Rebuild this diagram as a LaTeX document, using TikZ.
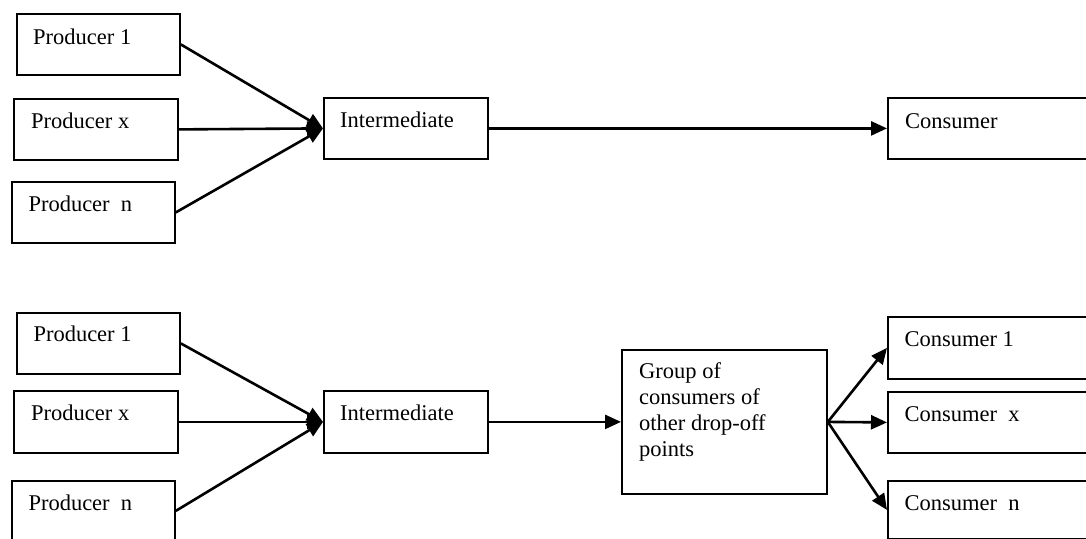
\documentclass[tikz,border=0pt]{standalone}
\usepackage{fontspec}
\setmainfont{Liberation Serif}
\usetikzlibrary{arrows.meta}
\begin{document}
\begin{tikzpicture}[x=1pt,y=-1pt,
  box/.style={draw, line width=1.8pt, inner sep=0pt, anchor=north west},
  txt/.style={inner sep=0pt, anchor=base west, font=\fontsize{22.5}{26}\selectfont},
  conn/.style={line width=2.6pt, -{Triangle[length=16pt,width=14pt]}}]
\useasboundingbox (0,0) rectangle (1086,538);
\clip (0,0) rectangle (1086,538);
% ---- top diagram ----
\node[box, minimum width=163pt, minimum height=61pt] (tp1) at (16,13) {};
\node[box, minimum width=164pt, minimum height=61pt] (tpx) at (13,98) {};
\node[box, minimum width=163pt, minimum height=61pt] (tpn) at (11,181) {};
\node[box, minimum width=164pt, minimum height=61pt] (ti) at (323,97) {};
\node[box, minimum width=250pt, minimum height=61pt] (tc) at (887,97) {};
\node[txt] (ttp1) at (33,44) {Producer 1};
\node[txt] (ttpx) at (31,128.3) {Producer x};
\node[txt] (ttpn) at (28.3,211.7) {Producer~~n};
\node[txt] (tti) at (340,127.7) {Intermediate};
\node[txt] (ttc) at (905,128.3) {Consumer};
\draw[conn] (tp1.east) -- (ti.west);
\draw[conn] (tpx.east) -- (ti.west);
\draw[conn] (tpn.east) -- (ti.west);
\draw[conn] (ti.east) -- (tc.west);
% ---- bottom diagram ----
\node[box, minimum width=163pt, minimum height=61pt] (bp1) at (16,312) {};
\node[box, minimum width=164pt, minimum height=62pt] (bpx) at (13,390) {};
\node[box, minimum width=163pt, minimum height=60pt] (bpn) at (11,480) {};
\node[box, minimum width=164pt, minimum height=62pt] (bi) at (323,390) {};
\node[box, minimum width=205pt, minimum height=144pt] (bg) at (621,349) {};
\node[box, minimum width=250pt, minimum height=62pt] (bc1) at (887,316) {};
\node[box, minimum width=250pt, minimum height=61pt] (bcx) at (887,391) {};
\node[box, minimum width=250pt, minimum height=58pt] (bcn) at (887,480) {};
\node[txt] (tbp1) at (33.3,341.7) {Producer 1};
\node[txt] (tbpx) at (31,420.7) {Producer x};
\node[txt] (tbpn) at (28.3,510.7) {Producer~~n};
\node[txt] (tbi) at (340,420.7) {Intermediate};
\node[txt, align=left] (tbg) at (639,456.7) {Group of\\consumers of\\other drop-off\\points};
\node[txt] (tbc1) at (904.3,346.7) {Consumer 1};
\node[txt] (tbcx) at (904.3,421) {Consumer~~x};
\node[txt] (tbcn) at (904.3,510.7) {Consumer~~n};
\draw[conn] (bp1.east) -- (bi.west);
\draw[conn] (bpx.east) -- (bi.west);
\draw[conn] (bpn.east) -- (bi.west);
\draw[conn] (bi.east) -- (bg.west);
\draw[conn] (bg.east) -- (bc1.west);
\draw[conn] (bg.east) -- (bcx.west);
\draw[conn] (bg.east) -- (bcn.west);
\end{tikzpicture}
\end{document}
